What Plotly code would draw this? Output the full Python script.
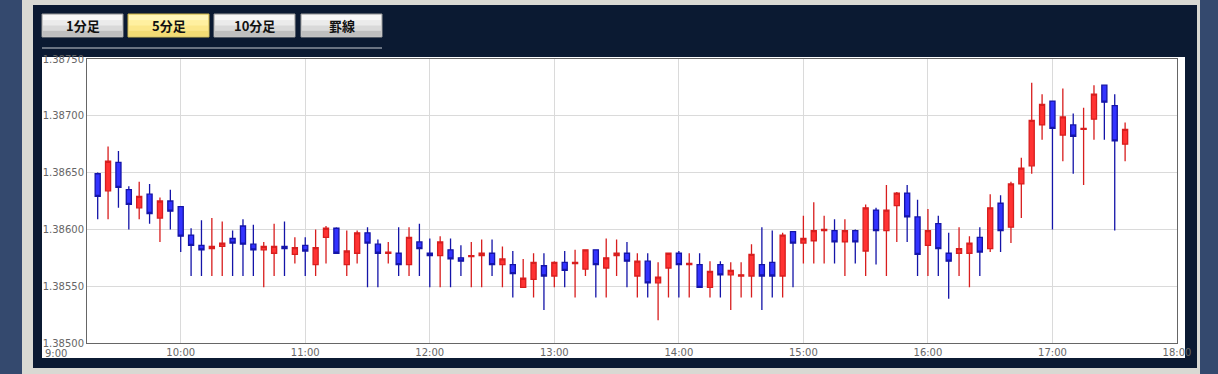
import plotly.graph_objects as go

# ---------------- data ----------------
day = "2024-01-15 "
times = [
    "09:20", "09:25", "09:30", "09:35", "09:40", "09:45", "09:50", "09:55",
    "10:00", "10:05", "10:10", "10:15", "10:20", "10:25", "10:30", "10:35", "10:40", "10:45", "10:50", "10:55",
    "11:00", "11:05", "11:10", "11:15", "11:20", "11:25", "11:30", "11:35", "11:40", "11:45", "11:50", "11:55",
    "12:00", "12:05", "12:10", "12:15", "12:20", "12:25", "12:30", "12:35", "12:40", "12:45", "12:50", "12:55",
    "13:00", "13:05", "13:10", "13:15", "13:20", "13:25", "13:30", "13:35", "13:40", "13:45", "13:50", "13:55",
    "14:00", "14:05", "14:10", "14:15", "14:20", "14:25", "14:30", "14:35", "14:40", "14:45", "14:50", "14:55",
    "15:00", "15:05", "15:10", "15:15", "15:20", "15:25", "15:30", "15:35", "15:40", "15:45", "15:50", "15:55",
    "16:00", "16:05", "16:10", "16:15", "16:20", "16:25", "16:30", "16:35", "16:40", "16:45", "16:50", "16:55",
    "17:00", "17:05", "17:10", "17:15", "17:20", "17:25", "17:30", "17:35",
]
opens = [
    1.38649, 1.38634, 1.38659, 1.38635, 1.38619, 1.38631, 1.38610, 1.38625, 1.38620, 1.38595,
    1.38586, 1.38583, 1.38585, 1.38592, 1.38603, 1.38587, 1.38582, 1.38579, 1.38585, 1.38578,
    1.38586, 1.38569, 1.38593, 1.38601, 1.38569, 1.38579, 1.38597, 1.38587, 1.38579, 1.38579,
    1.38569, 1.38589, 1.38579, 1.38577, 1.38582, 1.38575, 1.38576, 1.38577, 1.38579, 1.38569,
    1.38569, 1.38549, 1.38556, 1.38568, 1.38559, 1.38571, 1.38570, 1.38565, 1.38582, 1.38566,
    1.38577, 1.38579, 1.38559, 1.38572, 1.38553, 1.38566, 1.38579, 1.38569, 1.38569, 1.38549,
    1.38569, 1.38560, 1.38559, 1.38559, 1.38569, 1.38571, 1.38559, 1.38598, 1.38588, 1.38590,
    1.38599, 1.38599, 1.38589, 1.38599, 1.38581, 1.38617, 1.38599, 1.38621, 1.38632, 1.38611,
    1.38586, 1.38605, 1.38579, 1.38579, 1.38579, 1.38593, 1.38583, 1.38623, 1.38602, 1.38640,
    1.38656, 1.38692, 1.38713, 1.38683, 1.38692, 1.38688, 1.38697, 1.38727, 1.38709, 1.38675,
]
highs = [
    1.38650, 1.38673, 1.38669, 1.38638, 1.38642, 1.38640, 1.38628, 1.38635, 1.38620, 1.38601,
    1.38608, 1.38610, 1.38607, 1.38599, 1.38609, 1.38604, 1.38589, 1.38605, 1.38607, 1.38593,
    1.38593, 1.38600, 1.38603, 1.38602, 1.38599, 1.38599, 1.38602, 1.38591, 1.38589, 1.38602,
    1.38602, 1.38605, 1.38592, 1.38594, 1.38592, 1.38586, 1.38589, 1.38591, 1.38591, 1.38585,
    1.38581, 1.38574, 1.38579, 1.38579, 1.38572, 1.38581, 1.38582, 1.38582, 1.38582, 1.38592,
    1.38591, 1.38589, 1.38579, 1.38579, 1.38571, 1.38579, 1.38581, 1.38579, 1.38579, 1.38572,
    1.38572, 1.38571, 1.38571, 1.38587, 1.38602, 1.38599, 1.38597, 1.38598, 1.38612, 1.38624,
    1.38612, 1.38609, 1.38609, 1.38600, 1.38622, 1.38619, 1.38639, 1.38633, 1.38639, 1.38626,
    1.38618, 1.38612, 1.38597, 1.38602, 1.38594, 1.38602, 1.38631, 1.38630, 1.38642, 1.38663,
    1.38729, 1.38719, 1.38713, 1.38724, 1.38702, 1.38707, 1.38727, 1.38727, 1.38719, 1.38694,
]
lows = [
    1.38609, 1.38609, 1.38619, 1.38600, 1.38609, 1.38605, 1.38589, 1.38600, 1.38580, 1.38559,
    1.38559, 1.38559, 1.38559, 1.38559, 1.38559, 1.38559, 1.38549, 1.38559, 1.38559, 1.38570,
    1.38559, 1.38559, 1.38570, 1.38579, 1.38559, 1.38570, 1.38549, 1.38549, 1.38570, 1.38559,
    1.38559, 1.38559, 1.38549, 1.38549, 1.38549, 1.38559, 1.38549, 1.38549, 1.38559, 1.38549,
    1.38540, 1.38549, 1.38540, 1.38529, 1.38549, 1.38549, 1.38540, 1.38559, 1.38540, 1.38540,
    1.38559, 1.38549, 1.38540, 1.38540, 1.38520, 1.38540, 1.38540, 1.38540, 1.38549, 1.38540,
    1.38540, 1.38529, 1.38540, 1.38540, 1.38529, 1.38540, 1.38540, 1.38549, 1.38570, 1.38570,
    1.38570, 1.38570, 1.38559, 1.38570, 1.38559, 1.38569, 1.38559, 1.38589, 1.38589, 1.38559,
    1.38559, 1.38559, 1.38539, 1.38559, 1.38549, 1.38559, 1.38580, 1.38580, 1.38588, 1.38610,
    1.38649, 1.38679, 1.38600, 1.38660, 1.38649, 1.38639, 1.38679, 1.38679, 1.38599, 1.38660,
]
closes = [
    1.38629, 1.38660, 1.38637, 1.38622, 1.38629, 1.38614, 1.38625, 1.38616, 1.38594, 1.38586,
    1.38582, 1.38585, 1.38588, 1.38588, 1.38587, 1.38582, 1.38585, 1.38585, 1.38583, 1.38584,
    1.38581, 1.38584, 1.38601, 1.38579, 1.38581, 1.38597, 1.38588, 1.38579, 1.38580, 1.38569,
    1.38593, 1.38583, 1.38577, 1.38589, 1.38574, 1.38572, 1.38577, 1.38579, 1.38569, 1.38574,
    1.38561, 1.38557, 1.38571, 1.38559, 1.38571, 1.38564, 1.38571, 1.38582, 1.38569, 1.38575,
    1.38579, 1.38572, 1.38572, 1.38553, 1.38558, 1.38579, 1.38569, 1.38570, 1.38549, 1.38563,
    1.38560, 1.38564, 1.38560, 1.38578, 1.38559, 1.38559, 1.38595, 1.38588, 1.38592, 1.38599,
    1.38600, 1.38589, 1.38599, 1.38589, 1.38619, 1.38599, 1.38617, 1.38632, 1.38611, 1.38578,
    1.38599, 1.38583, 1.38572, 1.38583, 1.38588, 1.38580, 1.38619, 1.38599, 1.38640, 1.38654,
    1.38696, 1.38710, 1.38689, 1.38699, 1.38682, 1.38689, 1.38719, 1.38712, 1.38678, 1.38688,
]
button_labels = ["1分足", "5分足", "10分足", "罫線"]
active_button = "5分足"
hour_ticks = ["09:00", "10:00", "11:00", "12:00", "13:00", "14:00", "15:00", "16:00", "17:00", "18:00"]

# ---------------- geometry helpers ----------------
W, H = 1218, 374
ML, MR, MT, MB = 87, 41, 59, 31
PW, PH = W - ML - MR, H - MT - MB


def px(x):
    return (x - ML) / PW


def py(y):
    return (H - MB - y) / PH


def rect(x0, y0, x1, y1, fill, line=None, lw=0, layer="below"):
    return dict(type="rect", xref="paper", yref="paper",
                x0=px(x0), x1=px(x1), y0=py(y1), y1=py(y0),
                fillcolor=fill, line=dict(color=line or fill, width=lw), layer=layer)


xs = [day + t for t in times]

fig = go.Figure()
fig.add_trace(go.Candlestick(
    x=xs, open=opens, high=highs, low=lows, close=closes,
    increasing=dict(fillcolor="#ff3333", line=dict(color="#d81e1e", width=1.3)),
    decreasing=dict(fillcolor="#3333ff", line=dict(color="#1414a8", width=1.3)),
    whiskerwidth=0, showlegend=False, hoverinfo="skip",
))

shapes = []
# outer frame, navy panel, white chart panel
shapes.append(rect(22, 0, 1200, 374, "#d9d9d3"))
shapes.append(rect(33, 5, 1197, 368, "#0b1a32"))
shapes.append(rect(42, 57, 1185, 358, "#ffffff"))
# separator line under buttons
shapes.append(dict(type="line", xref="paper", yref="paper", x0=px(42), x1=px(382),
                   y0=py(48), y1=py(48), line=dict(color="#c9ccd2", width=1), layer="below"))

annotations = []
btn_x = [(42, 123), (128, 209), (214, 295), (301, 382)]
for (bx0, bx1), lab in zip(btn_x, button_labels):
    active = lab == active_button
    if active:
        bands = ["#fff6b8", "#fff0a0", "#fbe78a", "#f3dc74"]
        edge = "#c8b24a"
    else:
        bands = ["#f7f7f7", "#ebebeb", "#d9d9d9", "#bfbfbf"]
        edge = "#9a9a9a"
    y0, y1 = 14, 37
    shapes.append(rect(bx0, y0, bx1, y1, bands[1], line=edge, lw=1))
    n = len(bands)
    h = (y1 - y0) / n
    for k, c in enumerate(bands):
        shapes.append(rect(bx0 + 1, y0 + 1 + k * (h - 0.5), bx1 - 1, y0 + 1 + (k + 1) * (h - 0.5), c))
    annotations.append(dict(xref="paper", yref="paper", x=px((bx0 + bx1) / 2), y=py(25.5),
                            text="<b>" + lab + "</b>", showarrow=False,
                            font=dict(family="Noto Sans CJK JP", size=13, color="#111111"),
                            xanchor="center", yanchor="middle"))

# 9:00 label lies left of the plotted range
annotations.append(dict(xref="paper", yref="paper", x=px(56), y=0, yshift=-3,
                        text="9:00", showarrow=False, xanchor="center", yanchor="top",
                        font=dict(family="DejaVu Sans", size=10, color="#666666")))

fig.update_layout(
    width=W, height=H,
    margin=dict(l=ML, r=MR, t=MT, b=MB, pad=0),
    paper_bgcolor="#34496e",
    plot_bgcolor="rgba(0,0,0,0)",
    shapes=shapes,
    annotations=annotations,
    showlegend=False,
    xaxis=dict(
        type="date",
        range=[day + "09:14:51", day + "18:00"],
        tickmode="array",
        tickvals=[day + t for t in hour_ticks[1:]],
        ticktext=[t.lstrip("0") if t.startswith("0") else t for t in hour_ticks[1:]],
        showgrid=True, gridcolor="#dadada", gridwidth=1,
        showline=True, linecolor="#666666", linewidth=1, mirror=True,
        ticks="", zeroline=False,
        tickfont=dict(family="DejaVu Sans", size=10, color="#666666"),
        rangeslider=dict(visible=False),
        fixedrange=True,
    ),
    yaxis=dict(
        range=[1.385, 1.3875],
        tick0=1.385, dtick=0.0005, tickformat=".5f",
        showgrid=True, gridcolor="#dadada", gridwidth=1,
        showline=True, linecolor="#666666", linewidth=1, mirror=True,
        ticks="", zeroline=False,
        tickfont=dict(family="DejaVu Sans", size=10, color="#666666"),
        fixedrange=True,
    ),
)

fig.write_html("out.html", config={"displayModeBar": False},
               post_script="document.body.style.margin='0px';document.body.style.overflow='hidden';")
